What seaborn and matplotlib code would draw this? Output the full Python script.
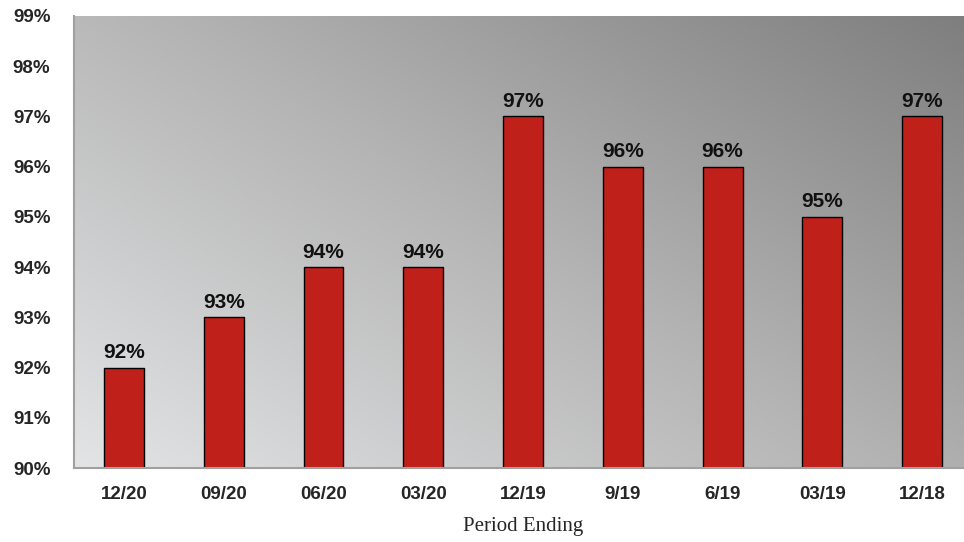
import numpy as np
import pandas as pd
import matplotlib
matplotlib.use("Agg")
import matplotlib.pyplot as plt
from matplotlib.colors import LinearSegmentedColormap
import seaborn as sns

periods = ["12/20", "09/20", "06/20", "03/20", "12/19", "9/19", "6/19", "03/19", "12/18"]
values = [92, 93, 94, 94, 97, 96, 96, 95, 97]
y_ticks = list(range(90, 100))

sns.set_style("white")
plt.rcParams["font.family"] = ["Liberation Sans", "DejaVu Sans"]

fig = plt.figure(figsize=(9.64, 5.42), dpi=100)
ax = fig.add_axes([0.0768, 0.1365, 0.9315, 0.834])

df = pd.DataFrame({"period": periods, "value": values})
sns.barplot(data=df, x="period", y="value", color="#c0201a", saturation=1,
            width=0.4, edgecolor="black", linewidth=1.0, ax=ax, zorder=3)

ax.set_ylim(90, 99)
ax.set_xlim(-0.5, len(periods) - 0.5)

# diagonal grey gradient behind the bars: light at bottom-left, dark at top-right
gx, gy = np.meshgrid(np.linspace(0, 1, 256), np.linspace(0, 1, 256))
grad = (gx * 0.55 + gy * 0.45)
cmap = LinearSegmentedColormap.from_list("bg", ["#e3e4e6", "#b4b4b4", "#7e7e7e"])
ax.imshow(grad, cmap=cmap, origin="lower", aspect="auto",
          extent=[-0.5, len(periods) - 0.5, 90, 99], zorder=0)

for c in ax.containers:
    ax.bar_label(c, labels=[f"{v}%" for v in values], padding=4,
                 fontsize=15, fontweight="bold", color="#111111")

ax.set_yticks(y_ticks)
ax.set_yticklabels([f"{t}%" for t in y_ticks], fontsize=13.5, fontweight="bold")
ax.set_xticks(range(len(periods)))
ax.set_xticklabels(periods, fontsize=13.5, fontweight="bold")
ax.tick_params(axis="y", length=0, pad=17)
ax.tick_params(axis="x", length=0, pad=13)

ax.set_xlabel("Period Ending", family=["Liberation Serif", "DejaVu Serif"],
              fontsize=15, labelpad=10)
ax.set_ylabel("")

for side in ["top", "right"]:
    ax.spines[side].set_visible(False)
for side in ["left", "bottom"]:
    ax.spines[side].set_color("#a0a0a0")
    ax.spines[side].set_linewidth(1.5)
    ax.spines[side].set_zorder(4)

fig.savefig("out.png", dpi=100)
